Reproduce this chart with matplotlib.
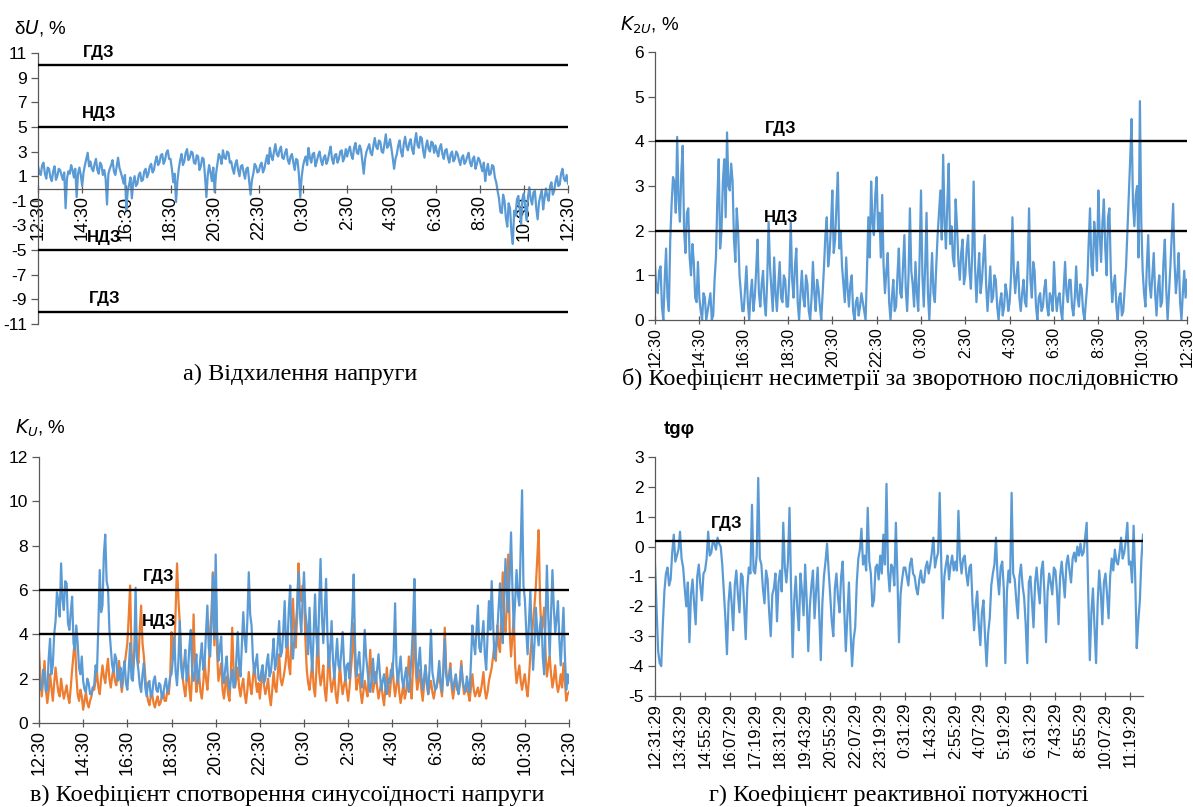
import numpy as np
import matplotlib.pyplot as plt

plt.rcParams['font.family'] = ['Liberation Sans Narrow', 'Liberation Sans', 'DejaVu Sans']
plt.rcParams['mathtext.fontset'] = 'custom'
plt.rcParams['mathtext.rm'] = 'Liberation Sans Narrow'
plt.rcParams['mathtext.it'] = 'Liberation Sans Narrow:italic'
plt.rcParams['axes.unicode_minus'] = False

BLUE = "#5B9BD5"
ORANGE = "#ED7D31"
AXIS = "#595959"
LW = 1.6

# logging steps, minutes
STEP_MAIN = 3.75
STEP_TG = 4.5

hour_labels = ["12:30", "14:30", "16:30", "18:30", "20:30", "22:30", "0:30",
               "2:30", "4:30", "6:30", "8:30", "10:30", "12:30"]
tg_labels = ["12:31:29", "13:43:29", "14:55:29", "16:07:29", "17:19:29",
             "18:31:29", "19:43:29", "20:55:29", "22:07:29", "23:19:29",
             "0:31:29", "1:43:29", "2:55:29", "4:07:29", "5:19:29",
             "6:31:29", "7:43:29", "8:55:29", "10:07:29", "11:19:29"]

# voltage deviation, %
du_values = [
    1.8, 1.3, 1.1, 1.9, 2.1, 1.2, 0.8, 1.7, 1.6, 0.9, 0.6, 1.4, 1.8, 0.7, 1.0, 1.6,
    1.5, 1.1, 0.7, 1.3, -1.6, 0.8, 1.4, 1.2, 1.9, 1.5, 0.9, 1.6, -0.7, 1.2, 1.7, 1.1,
    0.2, 1.3, 1.9, 2.4, 2.9, 1.8, 2.2, 1.6, 1.4, 2.0, 2.4, 1.5, 1.2, 2.1, 1.9, 1.1,
    1.5, 0.8, -1.3, 1.2, 1.6, 1.9, 2.3, 1.4, 1.1, 1.8, 2.5, 1.7, 1.3, 0.9, 0.4, 1.1,
    -1.7, -0.2, 0.3, 0.9, -0.8, 0.5, 1.0, 0.2, 0.4, 1.1, 1.3, 0.6, 0.7, 1.4, 1.6, 0.9,
    1.2, 1.8, 2.0, 1.3, 1.5, 2.2, 2.6, 1.9, 2.1, 2.7, 2.8, 2.0, 2.3, 2.9, 3.1, 2.4,
    2.4, 1.6, 0.5, 1.2, -1.1, 0.6, 1.6, 2.3, 2.8, 1.9, 2.2, 2.9, 3.2, 2.3, 2.5, 3.0,
    2.9, 2.1, 2.0, 2.7, 2.6, 1.5, 1.8, 2.5, 2.4, 1.0, -0.7, 1.1, 1.9, 1.3, 0.6, 1.7,
    -0.3, 1.2, 2.0, 2.8, 2.6, 2.0, 3.1, 2.5, 2.4, 3.0, 2.9, 2.1, 2.2, 1.6, 1.2, 2.0,
    2.3, 1.5, 1.0, 1.8, 1.9, 1.3, 0.8, 1.6, 1.7, 0.6, -0.5, 0.7, 1.2, 2.0, 1.8, 1.3,
    1.4, 1.9, 2.1, 1.3, 1.6, 2.2, 2.7, 2.0, 3.3, 2.6, 2.3, 3.0, 3.6, 2.8, 2.6, 3.1,
    3.4, 2.5, 2.4, 2.9, 3.2, 2.3, 2.0, 2.6, 2.8, 2.1, 1.5, 2.4, 2.3, 1.2, -0.7, 0.9,
    1.8, 2.3, 2.6, 1.9, 3.3, 2.5, 2.1, 2.8, 2.9, 1.8, 2.2, 2.7, 3.0, 2.3, 1.9, 2.5,
    2.7, 2.0, 2.3, 2.9, 3.4, 2.4, 2.0, 2.7, 2.8, 2.1, 2.4, 3.0, 3.1, 2.2, 2.5, 3.2,
    2.6, 3.1, 3.4, 2.7, 2.4, 3.3, 3.7, 2.9, 2.8, 3.5, 3.2, 2.2, 1.2, 2.4, 3.0, 3.3,
    3.6, 2.9, 2.7, 3.5, 4.1, 3.4, 3.2, 3.9, 3.8, 3.0, 2.9, 3.6, 4.4, 3.3, 3.5, 4.0,
    3.3, 2.5, 1.6, 2.4, 2.8, 3.5, 3.9, 3.0, 2.6, 3.6, 4.2, 3.4, 3.1, 3.7, 4.0, 3.2,
    2.8, 3.8, 4.5, 3.5, 3.3, 4.2, 4.1, 3.1, 2.5, 3.4, 3.9, 3.2, 3.0, 3.8, 3.7, 2.9,
    3.5, 3.0, 2.6, 3.3, 3.6, 2.8, 2.4, 3.1, 3.2, 2.5, 2.1, 2.8, 3.0, 2.2, 2.4, 3.0,
    2.8, 2.3, 1.9, 2.5, 2.7, 2.0, 2.2, 2.6, 2.9, 2.1, 1.8, 2.4, 2.6, 1.6, 2.0, 2.5,
    2.3, 1.8, 1.4, 2.1, 0.6, 1.5, 2.0, 1.1, 1.2, 1.9, 1.8, 0.9, 0.5, -0.2, -0.8, -1.9,
    -2.0, -0.5, -1.0, -2.4, -3.1, -1.2, -1.6, -3.5, -4.5, -1.8, -2.2, -0.9, -0.6, -1.7, -2.9, -0.8,
    -0.4, -1.5, -2.6, -0.7, 0.1, -0.9, -1.3, -0.3, -0.2, -1.6, -2.5, -1.1, -0.6, -0.1, -1.7, -0.8,
    0.0, -0.6, -1.0, 0.2, 0.5, -0.5, -0.2, 0.6, 1.0, 0.2, 0.3, 1.2, 1.6, 0.8, 0.6, 1.1,
    0.4,
]
du_limits = [10, 5, -5, -10]
du_limit_names = ["ГДЗ", "НДЗ", "НДЗ", "ГДЗ"]

# negative-sequence unbalance factor, %
k2u_values = [
    1.2, 0.7, 0.6, 1.1, 1.2, 0.3, 0.0, 0.9, 1.6, 0.5, 0.2, 1.8, 2.6, 3.2, 3.1, 2.4,
    4.1, 2.7, 2.2, 3.3, 3.9, 2.0, 1.5, 2.4, 2.5, 1.4, 1.0, 1.7, 1.3, 0.5, 0.4, 1.3,
    0.5, 0.2, 0.0, 0.6, 0.5, 0.0, 0.2, 0.4, 0.6, 0.0, 0.1, 0.9, 1.4, 2.7, 3.6, 1.6,
    2.0, 3.1, 3.6, 2.3, 4.2, 3.0, 2.9, 3.5, 3.1, 1.8, 1.3, 2.5, 2.0, 1.0, 0.6, 0.2,
    0.2, 0.7, 1.2, 0.4, 0.0, 0.6, 0.9, 0.2, 0.5, 1.1, 1.8, 0.6, 0.3, 0.8, 1.1, 0.4,
    0.1, 0.9, 2.2, 1.2, 0.7, 0.2, 1.4, 0.6, 0.2, 0.8, 1.3, 0.5, 0.4, 1.0, 0.9, 0.3,
    0.3, 1.0, 2.2, 0.9, 0.5, 1.2, 1.6, 0.4, 0.0, 0.6, 1.1, 0.5, 0.3, 1.0, 0.8, 0.2,
    0.0, 0.5, 1.3, 0.6, 0.2, 0.9, 0.7, 0.3, 0.0, 0.6, 1.2, 1.9, 2.3, 1.2, 1.5, 2.1,
    2.9, 1.5, 1.8, 2.6, 3.3, 1.6, 2.0, 1.2, 0.8, 0.4, 1.4, 0.7, 0.3, 0.8, 1.0, 0.2,
    0.0, 0.4, 0.5, 0.1, 0.3, 0.6, 0.4, 0.2, 0.0, 1.1, 2.3, 1.4, 3.1, 2.2, 1.9, 2.8,
    3.2, 2.0, 2.4, 1.4, 2.8, 1.2, 0.6, 1.1, 1.5, 0.4, 0.0, 0.5, 0.9, 0.2, 0.3, 1.0,
    1.6, 0.6, 0.5, 1.2, 1.9, 0.7, 0.2, 1.0, 2.5, 1.1, 0.8, 0.3, 1.3, 0.6, 0.2, 1.4,
    2.9, 1.0, 0.3, 1.2, 2.4, 0.6, 0.0, 0.8, 1.5, 0.6, 0.4, 1.2, 1.9, 2.4, 2.9, 1.8,
    3.7, 2.2, 1.6, 2.6, 3.5, 1.7, 2.1, 1.4, 1.2, 2.7, 2.1, 1.3, 0.9, 1.5, 1.8, 0.8,
    1.0, 1.6, 1.9, 1.1, 0.7, 1.5, 3.1, 1.2, 0.4, 1.0, 1.5, 0.6, 0.9, 1.4, 1.9, 0.8,
    0.2, 0.7, 1.2, 0.4, 0.5, 1.0, 0.9, 0.3, 0.0, 0.4, 0.6, 0.1, 0.3, 0.8, 0.6, 0.2,
    0.4, 1.0, 2.3, 1.1, 0.6, 1.0, 1.3, 0.5, 0.2, 0.6, 0.9, 0.4, 0.3, 1.2, 2.5, 0.9,
    0.5, 1.3, 1.1, 0.3, 0.0, 0.5, 0.6, 0.2, 0.3, 0.7, 0.9, 0.3, 0.1, 0.6, 0.5, 0.2,
    1.3, 0.6, 0.2, 0.5, 0.6, 0.2, 0.0, 0.7, 1.3, 0.6, 0.4, 0.9, 0.9, 0.3, 0.1, 0.5,
    1.2, 0.5, 0.3, 0.8, 0.7, 0.2, 0.0, 0.4, 0.8, 1.7, 2.5, 1.2, 1.0, 2.2, 1.8, 1.1,
    2.9, 1.9, 1.3, 2.2, 2.7, 1.6, 1.0, 2.3, 2.5, 1.1, 0.4, 0.8, 1.0, 0.3, 0.0, 0.5,
    0.6, 0.1, 0.2, 0.7, 1.2, 2.0, 2.8, 3.6, 4.5, 2.6, 2.1, 2.8, 3.0, 1.4, 4.9, 2.2,
    1.1, 0.6, 0.3, 1.2, 1.9, 0.8, 0.5, 1.0, 1.5, 0.6, 0.1, 0.7, 1.0, 0.3, 0.4, 1.3,
    1.8, 0.7, 0.0, 0.6, 1.2, 1.9, 2.6, 1.3, 0.6, 1.0, 1.5, 0.4, 0.0, 0.6, 1.1, 0.5,
    0.9,
]
k2u_limits = [4, 2]
k2u_limit_names = ["ГДЗ", "НДЗ"]

# voltage distortion factor, %, two records
ku_values_1 = [
    2.1, 1.5, 1.6, 2.4, 2.3, 1.4, 1.5, 2.9, 3.8, 2.2, 2.6, 4.0, 4.6, 5.9, 5.5, 4.8,
    7.2, 5.6, 5.1, 6.4, 6.3, 4.5, 4.2, 5.0, 5.7, 3.6, 3.3, 4.4, 3.6, 2.5, 2.2, 3.0,
    1.9, 1.5, 1.4, 2.0, 1.8, 1.3, 1.3, 1.6, 1.7, 2.6, 2.3, 4.4, 6.9, 5.0, 5.3, 7.6,
    8.5, 6.4, 6.1, 4.2, 3.4, 2.6, 2.3, 3.1, 2.9, 1.9, 2.0, 2.5, 1.6, 2.3, 2.8, 1.8,
    1.5, 2.4, 3.6, 2.0, 1.9, 3.2, 6.1, 2.9, 2.4, 1.7, 1.4, 2.2, 2.7, 1.6, 1.2, 1.8,
    1.9, 1.2, 1.3, 1.9, 2.1, 1.5, 1.4, 1.8, 1.7, 1.1, 1.3, 1.7, 2.0, 1.4, 1.6, 2.1,
    2.2, 2.9, 3.9, 2.3, 1.7, 2.8, 4.6, 2.5, 2.0, 2.6, 3.3, 1.9, 2.4, 3.5, 4.2, 2.3,
    1.9, 2.4, 3.1, 1.8, 2.2, 3.0, 3.6, 2.4, 2.7, 4.1, 5.3, 3.4, 3.0, 4.5, 6.7, 3.8,
    7.6, 4.2, 2.8, 3.4, 3.9, 2.2, 1.8, 2.5, 3.0, 1.9, 1.5, 2.0, 2.4, 1.6, 1.7, 2.9,
    4.1, 2.6, 2.1, 3.6, 5.0, 3.8, 3.2, 4.7, 6.8, 4.9, 4.4, 2.9, 2.2, 2.7, 3.1, 2.0,
    1.9, 2.3, 2.6, 1.8, 2.0, 2.7, 3.1, 2.1, 2.3, 3.0, 3.8, 2.4, 2.7, 3.6, 4.6, 3.0,
    3.2, 4.2, 5.5, 3.4, 3.6, 5.1, 6.2, 3.7, 2.9, 3.8, 4.3, 5.2, 6.8, 4.9, 4.1, 5.6,
    6.8, 5.0, 4.4, 3.1, 5.2, 3.4, 2.3, 4.1, 5.8, 3.9, 3.0, 5.3, 7.4, 4.8, 3.6, 5.0,
    6.5, 3.9, 2.5, 3.3, 4.6, 2.8, 2.0, 2.9, 3.8, 2.6, 2.4, 3.2, 4.1, 2.7, 1.9, 2.6,
    2.7, 2.0, 3.6, 4.8, 6.7, 3.5, 2.1, 2.7, 3.2, 2.3, 1.6, 2.5, 4.2, 3.0, 2.4, 1.7,
    1.4, 2.0, 2.9, 1.9, 1.8, 2.4, 3.1, 2.2, 1.5, 1.9, 2.2, 1.6, 1.3, 2.0, 1.8, 2.4,
    2.1, 3.2, 5.4, 2.6, 1.8, 2.4, 3.0, 2.0, 1.6, 2.1, 2.5, 1.7, 1.4, 2.2, 3.1, 4.4,
    6.5, 3.0, 2.0, 2.7, 3.4, 2.1, 1.5, 2.0, 2.6, 1.8, 1.3, 2.5, 4.2, 2.3, 1.9, 1.5,
    1.6, 2.1, 2.8, 1.9, 1.4, 2.3, 3.8, 2.2, 1.7, 2.0, 2.5, 1.8, 1.5, 1.9, 2.2, 1.6,
    1.3, 1.8, 2.6, 1.9, 1.6, 1.4, 2.1, 1.7, 1.4, 2.8, 4.4, 3.6, 3.1, 4.2, 5.3, 3.4,
    3.2, 3.9, 4.6, 3.1, 2.4, 4.0, 5.5, 4.2, 6.4, 4.5, 2.9, 3.3, 4.1, 5.2, 6.3, 4.7,
    3.6, 5.6, 7.4, 5.8, 5.0, 6.6, 8.6, 6.1, 4.2, 5.5, 6.9, 5.8, 5.3, 8.0, 10.5, 6.2,
    5.6, 4.2, 3.1, 4.5, 6.0, 3.8, 2.4, 3.6, 5.2, 4.1, 3.5, 4.4, 4.8, 3.0, 2.2, 4.6,
    7.1, 4.8, 3.0, 4.9, 6.9, 5.2, 4.1, 4.7, 5.5, 3.8, 2.6, 3.9, 5.2, 3.1, 1.5, 2.2,
    1.8,
]
ku_values_2 = [
    3.3, 2.1, 1.2, 1.9, 2.8, 1.5, 0.9, 1.4, 2.2, 1.6, 1.0, 1.8, 2.5, 1.9, 1.4, 1.2,
    2.0, 1.5, 1.1, 1.4, 1.7, 1.2, 0.9, 1.6, 2.4, 3.1, 3.9, 2.2, 1.3, 1.0, 1.5, 1.2,
    0.6, 1.0, 1.4, 0.9, 0.7, 1.0, 1.2, 1.6, 1.5, 1.9, 2.3, 1.6, 1.3, 2.0, 2.6, 2.1,
    1.8, 2.4, 2.9, 2.0, 1.6, 2.1, 2.5, 1.9, 1.7, 2.2, 2.8, 2.0, 1.4, 2.0, 2.6, 3.1,
    3.6, 4.8, 6.2, 3.3, 2.4, 3.0, 4.1, 3.2, 2.7, 4.2, 5.3, 3.6, 3.0, 2.1, 1.4, 1.0,
    0.8, 1.2, 1.3, 0.9, 0.7, 1.0, 1.2, 0.8, 0.9, 1.2, 1.4, 1.0, 1.0, 1.5, 1.3, 2.0,
    4.1, 2.9, 3.2, 5.1, 7.2, 5.6, 4.5, 3.0, 2.1, 1.6, 1.2, 1.9, 2.6, 1.5, 1.0, 2.3,
    4.9, 2.5, 1.4, 1.9, 2.2, 1.4, 1.1, 1.8, 2.8, 2.0, 1.5, 2.4, 4.2, 5.0, 6.8, 3.5,
    6.4, 3.2, 1.9, 2.3, 2.7, 1.5, 1.1, 1.7, 2.1, 1.3, 1.0, 2.2, 4.3, 2.4, 1.6, 2.0,
    2.5, 1.6, 1.2, 1.7, 2.0, 1.3, 0.9, 1.5, 2.3, 1.7, 1.3, 2.0, 2.7, 1.9, 1.4, 1.8,
    1.1, 1.8, 2.6, 1.7, 1.3, 1.6, 2.0, 1.2, 0.8, 1.5, 2.3, 1.6, 1.4, 2.2, 3.1, 2.0,
    1.7, 2.0, 2.4, 2.9, 3.8, 2.6, 2.2, 3.9, 5.6, 4.1, 3.4, 4.8, 7.2, 5.9, 5.5, 6.2,
    5.9, 3.8, 2.4, 1.8, 1.5, 2.1, 2.8, 1.6, 1.2, 2.4, 4.3, 2.3, 1.7, 2.1, 2.6, 1.5,
    1.0, 2.0, 3.5, 2.0, 1.4, 1.8, 2.2, 1.3, 0.9, 1.6, 2.7, 1.8, 1.3, 1.7, 2.0, 1.5,
    1.0, 1.6, 2.4, 3.2, 4.5, 2.5, 1.5, 1.9, 2.2, 1.4, 0.9, 1.4, 1.9, 1.5, 1.2, 2.1,
    3.3, 2.0, 1.4, 1.8, 2.3, 1.6, 1.1, 1.5, 1.8, 1.2, 0.8, 1.6, 2.5, 1.7, 1.2, 1.9,
    2.7, 1.8, 1.2, 1.7, 2.2, 1.4, 0.9, 1.3, 1.8, 1.1, 1.4, 2.1, 3.0, 1.8, 1.1, 2.6,
    4.6, 2.3, 1.5, 1.9, 2.4, 1.5, 1.0, 1.7, 2.6, 1.8, 1.3, 1.6, 1.9, 1.4, 1.1, 1.5,
    1.6, 1.9, 2.3, 1.6, 1.2, 2.6, 4.3, 2.4, 1.7, 2.1, 2.7, 1.6, 1.1, 1.6, 2.0, 1.5,
    1.4, 2.0, 2.8, 1.8, 1.3, 1.5, 1.8, 1.3, 1.0, 1.6, 2.2, 1.5, 1.2, 1.4, 1.6, 1.2,
    1.4, 1.8, 2.3, 1.5, 1.1, 1.4, 1.9, 2.2, 2.5, 3.0, 3.6, 2.8, 4.4, 3.5, 3.2, 5.0,
    6.8, 4.6, 4.1, 5.5, 7.6, 4.2, 3.0, 3.9, 4.8, 2.6, 1.8, 2.2, 2.6, 1.9, 1.5, 1.9,
    2.2, 1.6, 1.2, 2.0, 3.1, 3.8, 4.6, 5.3, 6.2, 7.4, 8.7, 5.6, 4.0, 4.5, 5.2, 3.2,
    2.1, 2.6, 3.0, 2.2, 1.6, 2.0, 2.6, 1.8, 1.4, 1.7, 2.2, 1.6, 2.7, 1.9, 1.0, 1.3,
    1.4,
]
ku_limits = [6, 4]
ku_limit_names = ["ГДЗ", "НДЗ"]

# reactive power factor
tg_values = [
    -0.6, -2.1, -3.5, -3.9, -4.0, -2.6, -1.5, -0.9, -0.7, -1.3, -1.1, -0.2, 0.4, -0.5, -0.3, -0.1,
    0.5, -0.4, -0.7, -1.4, -2.0, -1.2, -3.2, -1.6, -1.1, -1.9, -2.6, -1.0, -0.6, -1.3, -1.8, -0.9,
    -0.8, -0.4, 0.5, -0.3, -0.2, 0.2, 0.1, -0.1, 0.3, 0.1, 0.0, -0.6, -1.5, -2.4, -3.6, -1.9,
    -1.2, -1.9, -2.8, -1.3, -0.8, -1.6, -2.2, -0.9, -1.0, -2.0, -3.1, -1.4, -0.7, -0.9, 1.4, -0.8,
    -0.9, -0.3, 2.3, -0.4, -0.6, -1.4, -1.9, -0.8, -1.1, -2.2, -3.0, -1.6, -1.4, -0.9, -2.5, -1.2,
    -0.8, -1.5, 0.8, -0.7, -1.2, -0.5, 1.3, -1.4, -3.7, -1.8, -1.0, -2.1, -2.8, -0.9, -1.5, -2.3,
    -0.6, -1.8, -3.5, -2.0, -1.3, -0.8, -2.4, -1.5, -0.7, -2.2, -3.8, -1.9, -1.0, -0.5, 0.1, -0.8,
    -1.6, -2.5, -3.0, -1.4, -0.9, -1.7, -2.2, -1.0, -0.5, -2.1, -3.5, -2.3, -1.2, -2.8, -4.0, -3.1,
    -2.7, -1.2, -0.4, -0.1, 0.6, -0.6, -0.3, -0.8, 1.3, -0.5, -0.9, -2.0, -1.8, -0.7, -0.6, -1.1,
    -0.3, -0.9, 0.4, -0.6, 2.1, -0.8, -1.5, -0.6, -0.7, -1.3, 0.8, -1.0, -3.2, -1.6, -1.1, -0.7,
    -0.7, -1.0, -1.3, -0.6, -0.4, -0.9, -1.0, -1.4, -1.6, -1.1, -0.8, -1.2, -1.2, -0.7, -0.5, -0.9,
    -0.6, -0.2, 0.3, -0.7, -0.4, -0.2, 1.8, -0.5, -2.4, -1.0, -0.6, -0.3, -1.1, -0.6, -0.3, -0.8,
    -0.5, -0.8, 1.2, -0.4, -0.9, -0.4, -0.3, -0.9, -1.3, -0.7, -0.6, -1.9, -2.8, -2.0, -1.5, -2.6,
    -3.3, -2.2, -1.8, -3.0, -4.0, -2.9, -2.4, -1.3, -0.9, -0.6, 0.3, -1.0, -1.6, -0.7, -0.5, -1.4,
    -3.9, -1.5, -0.8, -1.2, 1.8, -0.9, -1.1, -1.8, -2.4, -1.0, -0.6, -1.3, -1.7, -2.6, -3.9, -1.2,
    -1.0, -1.8, -2.7, -1.2, -0.7, -1.4, -1.9, -0.8, -0.5, -1.6, -3.2, -1.5, -0.9, -1.2, -1.6, -0.7,
    -0.8, -1.5, -2.6, -1.0, -0.5, -1.1, -1.7, -0.6, -0.3, -0.8, -1.2, -0.4, -0.2, -0.5, 0.0, -0.3,
    0.1, -0.3, -0.2, 0.3, 0.8, -1.6, -3.8, -2.2, -1.4, -2.7, -3.9, -1.9, -0.8, -1.5, -2.6, -1.2,
    -0.9, -1.6, -2.4, -1.0, -0.4, -0.8, -0.1, -0.5, -0.6, -0.2, 0.3, -0.4, -0.2, 0.2, 0.8, -0.6,
    -0.5, -1.2, 0.7, -1.0, -3.4, -2.5, -1.8, -0.4, 0.4,
]
tg_limit = 0.2


def style_axes(ax, xsize=13):
    for side in ("top", "right"):
        ax.spines[side].set_visible(False)
    for side in ("left", "bottom"):
        ax.spines[side].set_color(AXIS)
        ax.spines[side].set_linewidth(0.9)
    ax.tick_params(axis="y", direction="out", length=5, width=0.9,
                   color=AXIS, labelsize=12.5, pad=3)
    ax.tick_params(axis="x", direction="inout", length=6, width=0.9,
                   color=AXIS, labelsize=xsize, labelrotation=90, pad=2)
    for lbl in ax.get_xticklabels():
        lbl.set_fontfamily(['Liberation Sans', 'DejaVu Sans'])


def add_limits(ax, levels, names, x_label, offset=4):
    for lev, name in zip(levels, names):
        ax.axhline(lev, color="black", lw=1.7, zorder=3)
        ax.annotate(name, (x_label, lev), xytext=(0, offset),
                    textcoords="offset points", ha="center", va="bottom",
                    fontsize=12, fontweight="bold")


fig = plt.figure(figsize=(11.93, 8.07), dpi=100)
W, H = 1193, 807


def axes_px(left, top, right, bottom):
    return fig.add_axes([left / W, 1 - bottom / H, (right - left) / W, (bottom - top) / H])


main_ticks = np.arange(len(hour_labels)) * 120.0

# а) voltage deviation
ax = axes_px(38, 53, 568, 324)
t = np.arange(len(du_values)) * STEP_MAIN
ax.plot(t, du_values, color=BLUE, lw=LW, zorder=2)
ax.set_xlim(0, 1440)
ax.set_ylim(-11, 11)
ax.set_yticks(range(-11, 12, 2))
ax.spines["bottom"].set_position(("data", 0))
ax.set_xticks(main_ticks)
ax.set_xticklabels(hour_labels)
style_axes(ax)
add_limits(ax, du_limits[:2], du_limit_names[:2], 165)
add_limits(ax, du_limits[2:], du_limit_names[2:], 180)

# б) unbalance factor
ax = axes_px(655, 52, 1187, 320)
t = np.arange(len(k2u_values)) * STEP_MAIN
ax.plot(t, k2u_values, color=BLUE, lw=LW, zorder=2)
ax.set_xlim(0, 1440)
ax.set_ylim(0, 6)
ax.set_yticks(range(0, 7))
ax.set_xticks(main_ticks)
ax.set_xticklabels(hour_labels)
style_axes(ax, xsize=11.5)
add_limits(ax, k2u_limits, k2u_limit_names, 340)

# в) distortion factor
ax = axes_px(39, 457, 569, 723)
t = np.arange(len(ku_values_1)) * STEP_MAIN
ax.plot(t, ku_values_2, color=ORANGE, lw=LW, zorder=2)
ax.plot(t, ku_values_1, color=BLUE, lw=LW, zorder=2)
ax.set_xlim(0, 1440)
ax.set_ylim(0, 12)
ax.set_yticks(range(0, 13, 2))
ax.set_xticks(main_ticks)
ax.set_xticklabels(hour_labels)
style_axes(ax)
add_limits(ax, ku_limits, ku_limit_names, 325)

# г) reactive power factor
ax = axes_px(655, 457, 1143, 696)
t = np.arange(len(tg_values)) * STEP_TG
ax.plot(t, tg_values, color=BLUE, lw=LW, zorder=2)
ax.set_xlim(0, t[-1])
ax.set_ylim(-5, 3)
ax.set_yticks(range(-5, 4))
ax.set_xticks(np.arange(len(tg_labels)) * 72.0)
ax.set_xticklabels(tg_labels)
style_axes(ax, xsize=12)
add_limits(ax, [tg_limit], ["ГДЗ"], 205, offset=7)

# axis titles
fig.text(14 / W, 1 - 28 / H, r"δ$\mathit{U}$, %", fontsize=13.5, va="center")
fig.text(620 / W, 1 - 25 / H, r"$\mathit{K}_{\mathit{2U}}$, %", fontsize=13.5, va="center")
fig.text(15 / W, 1 - 428 / H, r"$\mathit{K}_{\mathit{U}}$, %", fontsize=13.5, va="center")
fig.text(664 / W, 1 - 430 / H, "tgφ", fontsize=13.5, fontweight="bold", va="center")

# captions
cap = dict(fontsize=17.5, family=["Liberation Serif", "DejaVu Serif"], ha="center", va="center")
fig.text(300 / W, 1 - 374 / H, "а) Відхилення напруги", **cap)
fig.text(900 / W, 1 - 379 / H, "б) Коефіцієнт несиметрії за зворотною послідовністю", **cap)
fig.text(287 / W, 1 - 795 / H, "в) Коефіцієнт спотворення синусоїдності напруги", **cap)
fig.text(899 / W, 1 - 795 / H, "г) Коефіцієнт реактивної потужності", **cap)

fig.savefig("out.png", dpi=100)
